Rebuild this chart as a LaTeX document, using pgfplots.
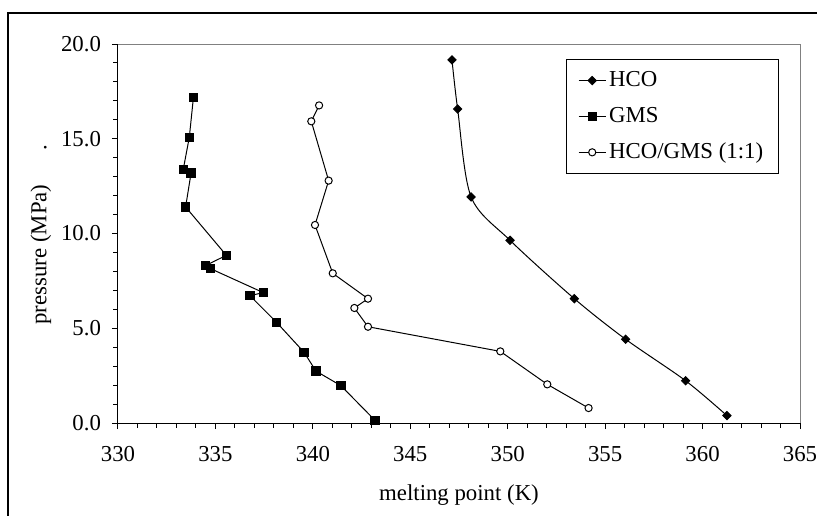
\documentclass[border=0pt]{standalone}
\usepackage{fontspec}
\setmainfont{Liberation Serif}
\usepackage{pgfplots}
\pgfplotsset{compat=1.18}

% 1 px of the 817x515 reference = 0.5pt; plot box at px (118..800, 44..423)
\newcommand{\chartfont}{\fontsize{11.4}{13.6}\selectfont}

\begin{document}
\begin{tikzpicture}[x=1pt,y=1pt]
\useasboundingbox (-59,-46) rectangle (349.5,211.5);
% outer frame (cut off at right and bottom)
\draw[line width=1pt] (-55,-50) -- (-55,205) -- (360,205);

\begin{axis}[
  at={(0,0)}, anchor=south west,
  scale only axis, width=341pt, height=189.5pt,
  xmin=330, xmax=365, ymin=0, ymax=20,
  xtick={330,335,...,365}, ytick={0,5,...,20},
  minor x tick num=4, minor y tick num=4,
  axis lines=left,
  x axis line style={-}, y axis line style={-},
  axis line style={line width=0.5pt},
  tick align=outside,
  major tick length=3pt, minor tick length=2.3pt,
  every tick/.style={black, line width=0.5pt},
  /pgf/number format/assume math mode=true,
  tick label style={font=\chartfont},
  xticklabel style={/pgf/number format/1000 sep={}, yshift=-5pt},
  yticklabel style={/pgf/number format/.cd, fixed, fixed zerofill, precision=1, /tikz/.cd, xshift=-2pt},
  xlabel={melting point (K)},
  ylabel={pressure (MPa)\hspace{17pt}.},
  label style={font=\chartfont},
  xlabel style={at={(axis description cs:0.5,-0.19)}, anchor=center},
  ylabel style={at={(axis description cs:-0.113,0.497)}, anchor=center, rotate=0},
  clip=false,
  legend style={at={(0.6565,0.9604)}, anchor=north west, draw=black, line width=0.5pt,
    fill=white, font=\chartfont, inner xsep=6pt, inner ysep=4.5pt, row sep=5.8pt,
    nodes={inner sep=1.5pt}},
  legend cell align=left,
  legend image code/.code={\draw[mark repeat=2, mark phase=2]
    plot coordinates {(0pt,0pt) (6.75pt,0pt) (13.5pt,0pt)};},
  every axis plot/.append style={black, line width=0.5pt},
]
\addplot[smooth, tension=0.5, mark=square*, mark size=1.45pt,
  mark options={rotate=45, fill=black}] coordinates {
  (361.25,0.39) (359.13,2.23) (356.05,4.42) (353.42,6.56)
  (350.12,9.64) (348.12,11.93) (347.43,16.57) (347.14,19.16)};
\addplot[mark=square*, mark size=2.1pt, mark options={fill=black}] coordinates {
  (333.87,17.17) (333.66,15.08) (333.35,13.39) (333.75,13.19) (333.47,11.40)
  (335.56,8.85) (334.48,8.30) (334.76,8.14) (337.46,6.88) (336.77,6.72)
  (338.14,5.31) (339.55,3.73) (340.16,2.74) (341.44,1.97) (343.19,0.14)};
\addplot[mark=*, mark size=1.8pt, mark options={fill=white}] coordinates {
  (340.32,16.76) (339.92,15.92) (340.81,12.79) (340.11,10.45) (341.02,7.90)
  (342.83,6.56) (342.13,6.07) (342.83,5.08) (349.62,3.78) (352.03,2.04)
  (354.15,0.79)};
\legend{HCO, GMS, HCO/GMS (1:1)}
\draw[gray, line width=0.5pt] (rel axis cs:0,1) -- (rel axis cs:1,1) -- (rel axis cs:1,0);
\end{axis}
\end{tikzpicture}
\end{document}
